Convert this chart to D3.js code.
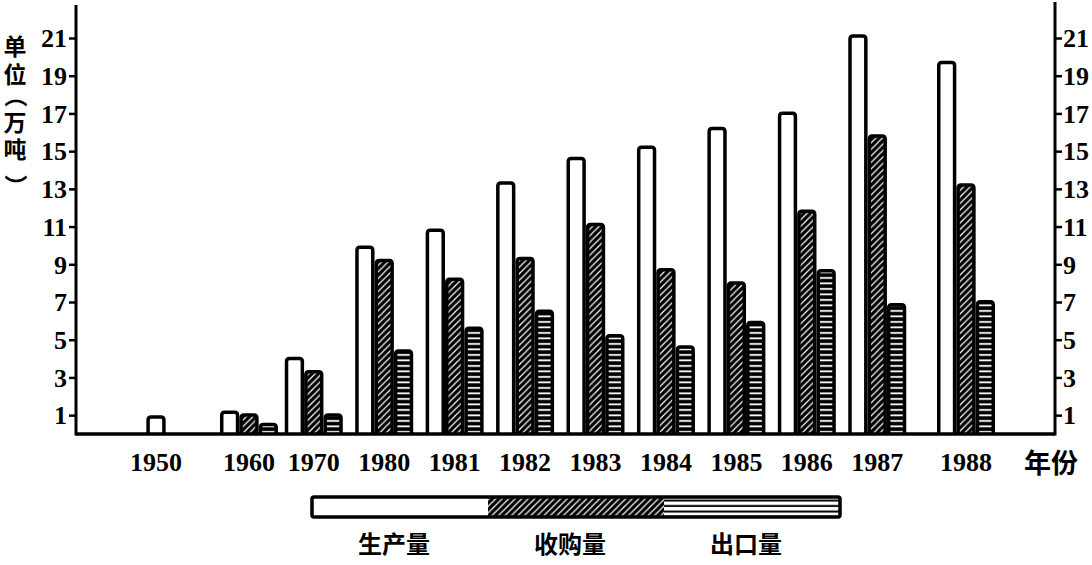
<!DOCTYPE html>
<html><head><meta charset="utf-8">
<script src="https://cdn.jsdelivr.net/npm/d3@7/dist/d3.min.js"></script>
<style>
body{margin:0;background:#fff;}
svg{display:block;}
.num{font-family:"Liberation Serif","DejaVu Serif",serif;font-weight:700;fill:#000;}
.cjk{font-family:"Noto Sans CJK SC",sans-serif;font-weight:700;fill:#000;}
</style></head>
<body>
<svg id="chart" width="1092" height="565"></svg>
<script>
// ---- data ----
const categories = ["1950","1960","1970","1980","1981","1982","1983","1984","1985","1986","1987","1988"];
const production = [1.0, 1.25, 4.1, 10.0, 10.9, 13.4, 14.7, 15.3, 16.3, 17.1, 21.2, 19.8];   // 生产量
const purchase   = [null, 1.1, 3.4, 9.3, 8.3, 9.4, 11.2, 8.8, 8.1, 11.9, 15.9, 13.3];        // 收购量
const exportVol  = [null, 0.6, 1.1, 4.5, 5.7, 6.6, 5.3, 4.7, 6.0, 8.75, 6.95, 7.1];          // 出口量
const seriesNames = ["生产量","收购量","出口量"];
const yTicks = [1,3,5,7,9,11,13,15,17,19,21];
const yUnitChars = ["单","位","（","万","吨","）"];   // 单位（万吨）, written vertically
const xUnit = "年份";

// ---- layout ----
const svg = d3.select("#chart");
const left = 76, right = 1055, base = 434;
const y = d3.scaleLinear().domain([0, 21]).range([base, 38]);

// uneven spacing of the groups as in the original drawing
const gapBefore = [0, 1.32, 0.92, 1, 1, 1, 1, 1, 1, 1, 1, 1.26];
const slot = d3.cumsum(gapBefore);
const x = d3.scaleLinear().domain([0, slot[slot.length - 1]]).range([156, 966]);
const inner = d3.scaleBand().domain([0,1,2]).range([-29, 29]).padding(0);
const bw = inner.bandwidth();

// patterns
const defs = svg.append("defs");
const p1 = defs.append("pattern").attr("id","hatch").attr("patternUnits","userSpaceOnUse")
  .attr("width",6.5).attr("height",6.5);
p1.append("rect").attr("width",6.5).attr("height",6.5).attr("fill","#000");
p1.append("path").attr("d","M-1,7.5 L7.5,-1 M-1,1 L1,-1 M5.5,7.5 L7.5,5.5")
  .attr("stroke","#fff").attr("stroke-width",1.2);
const p2 = defs.append("pattern").attr("id","hlines").attr("patternUnits","userSpaceOnUse")
  .attr("width",8).attr("height",5.5);
p2.append("rect").attr("width",8).attr("height",5.5).attr("fill","#000");
p2.append("rect").attr("x",0).attr("y",2).attr("width",8).attr("height",1.8).attr("fill","#fff");
const p3 = defs.append("pattern").attr("id","hlinesLegend").attr("patternUnits","userSpaceOnUse")
  .attr("width",8).attr("height",5.5).attr("y",497);
p3.append("rect").attr("width",8).attr("height",5.5).attr("fill","#fff");
p3.append("rect").attr("x",0).attr("y",2.5).attr("width",8).attr("height",2).attr("fill","#000");
const fills = ["#fff","url(#hatch)","url(#hlines)"];
const legendFills = ["#fff","url(#hatch)","url(#hlinesLegend)"];

// bars
const series = [production, purchase, exportVol];
const bars = [];
categories.forEach((c, i) => {
  const present = series.map((s, k) => ({k, v: s[i]})).filter(d => d.v != null);
  present.forEach(d => {
    const off = present.length === 1 ? -bw/2 : inner(d.k);
    bars.push({c, i, k: d.k, v: d.v, x0: x(slot[i]) + off});
  });
});
const sw = 3.5;
svg.append("g").selectAll("path").data(bars).join("path")
  .attr("d", d => {
    const x0 = d.x0 + sw/2, x1 = d.x0 + bw - sw/2, yt = y(d.v) + sw/2, yb = base, r = 3;
    return `M${x0},${yb} L${x0},${yt + r} Q${x0},${yt} ${x0 + r},${yt} L${x1 - r},${yt} Q${x1},${yt} ${x1},${yt + r} L${x1},${yb}`;
  })
  .attr("fill", d => fills[d.k])
  .attr("stroke", "#000").attr("stroke-width", sw).attr("stroke-linejoin","round");

// axes
const axL = d3.axisLeft(y).tickValues(yTicks).tickSize(7).tickPadding(2);
const axR = d3.axisRight(y).tickValues(yTicks).tickSize(7).tickPadding(1);
const gL = svg.append("g").attr("transform",`translate(${left},0)`).call(axL);
const gR = svg.append("g").attr("transform",`translate(${right},0)`).call(axR);
[gL, gR].forEach(g => {
  g.select(".domain").remove();
  g.selectAll(".tick line").attr("stroke","#000").attr("stroke-width",2.5);
  g.selectAll(".tick text").attr("class","num").attr("font-size",26).attr("dy","0.34em")
    .style("font-family",'"Liberation Serif","DejaVu Serif",serif').style("font-weight",700);
});
svg.append("line").attr("x1",left).attr("x2",left).attr("y1",5).attr("y2",base+1.5)
  .attr("stroke","#000").attr("stroke-width",3);
svg.append("line").attr("x1",right).attr("x2",right).attr("y1",2).attr("y2",base+1.5)
  .attr("stroke","#000").attr("stroke-width",3);
svg.append("line").attr("x1",left).attr("x2",right).attr("y1",base).attr("y2",base)
  .attr("stroke","#000").attr("stroke-width",3.5);

// x labels
svg.append("g").selectAll("text").data(categories).join("text")
  .attr("class","num").attr("font-size",26).attr("text-anchor","middle")
  .attr("x",(d,i) => x(slot[i])).attr("y",471).text(d => d);
svg.append("text").attr("class","cjk").attr("font-size",27).attr("x",1024).attr("y",473).text(xUnit);

// y unit (vertical, one character per line; brackets turned for vertical writing)
const charY = [45, 73, 96, 121, 148, 186];
svg.append("g").selectAll("text").data(yUnitChars).join("text")
  .attr("class","cjk").attr("font-size",23).attr("text-anchor","middle")
  .attr("dominant-baseline","central")
  .attr("transform",(d,i) => (d === "（" || d === "）")
      ? `translate(17,${charY[i]}) rotate(90)` : `translate(15,${charY[i]})`)
  .text(d => d);

// legend
const lg = d3.scaleBand().domain(seriesNames).range([312, 840]);
svg.append("g").selectAll("rect").data(seriesNames).join("rect")
  .attr("x", d => lg(d)).attr("y", 497).attr("width", lg.bandwidth()).attr("height", 20)
  .attr("fill", (d,i) => legendFills[i]);
svg.append("rect").attr("x",312).attr("y",497).attr("width",528).attr("height",20).attr("rx",2)
  .attr("fill","none").attr("stroke","#000").attr("stroke-width",3.5);
svg.append("g").selectAll("text").data(seriesNames).join("text")
  .attr("class","cjk").attr("font-size",24).attr("text-anchor","middle")
  .attr("x", d => lg(d) + lg.bandwidth()/2 - 6).attr("y", 553).text(d => d);
</script>
</body></html>
